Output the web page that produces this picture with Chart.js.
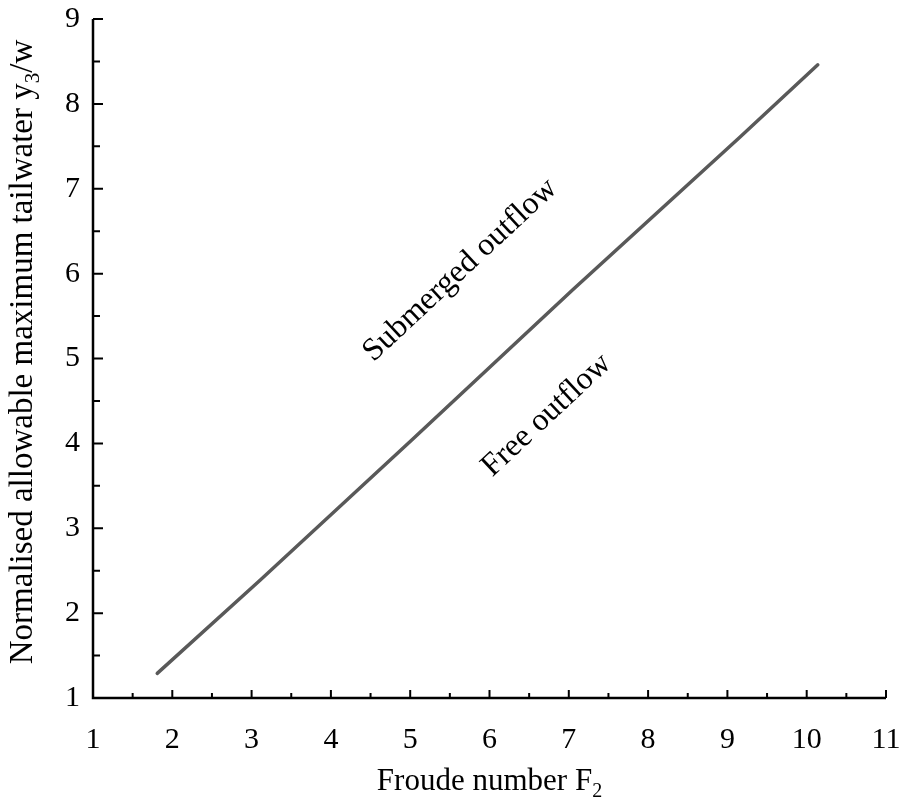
<!DOCTYPE html>
<html>
<head>
<meta charset="utf-8">
<script src="https://cdn.jsdelivr.net/npm/chart.js@4/dist/chart.umd.min.js"></script>
<style>
    html, body { margin: 0; padding: 0; background: #fff; }
    #wrap { width: 903px; height: 799px; }
</style>
</head>
<body>
<div id="wrap"><canvas id="froudeChart" width="903" height="799"></canvas></div>
<script>
// values
const froude = [1.81, 3.11, 5.02, 7.05, 9.16, 10.14];
const tailwater = [1.29, 2.39, 4.04, 5.81, 7.61, 8.46];

const xTicks = [1, 2, 3, 4, 5, 6, 7, 8, 9, 10, 11];
const yTicks = [1, 2, 3, 4, 5, 6, 7, 8, 9];

const SERIF = "'Liberation Serif', 'Times New Roman', serif";

// draws a string made of [text, isSubscript] parts, centred on 0
function drawParts(ctx, parts, size, subSize, subDrop) {
    let total = 0;
    const widths = parts.map(p => {
        ctx.font = (p[1] ? subSize : size) + "px " + SERIF;
        const w = ctx.measureText(p[0]).width;
        total += w;
        return w;
    });
    let x = -total / 2;
    parts.forEach((p, i) => {
        ctx.font = (p[1] ? subSize : size) + "px " + SERIF;
        ctx.fillText(p[0], x, p[1] ? subDrop : 0);
        x += widths[i];
    });
}

const decorPlugin = {
    id: "decor",
    afterDraw(chart) {
        const ctx = chart.ctx;
        const xs = chart.scales.x;
        const ys = chart.scales.y;
        const left = xs.left, bottom = ys.bottom;

        ctx.save();
        ctx.strokeStyle = "#000";
        ctx.lineWidth = 2.5;
        ctx.beginPath();
        ctx.moveTo(left, ys.top);
        ctx.lineTo(left, bottom);
        ctx.lineTo(xs.right, bottom);
        ctx.stroke();

        // inward tick marks, majors and halves
        ctx.lineWidth = 2;
        ctx.beginPath();
        for (let v = 1; v <= 11.001; v += 0.5) {
            const px = xs.getPixelForValue(v);
            const len = Number.isInteger(v) ? 8 : 5;
            ctx.moveTo(px, bottom);
            ctx.lineTo(px, bottom - len);
        }
        for (let v = 1; v <= 9.001; v += 0.5) {
            const py = ys.getPixelForValue(v);
            const len = Number.isInteger(v) ? 10 : 7;
            ctx.moveTo(left, py);
            ctx.lineTo(left + len, py);
        }
        ctx.stroke();

        ctx.fillStyle = "#000";
        ctx.textBaseline = "alphabetic";
        ctx.textAlign = "left";

        // x title
        ctx.save();
        ctx.translate((xs.left + xs.right) / 2, 790);
        drawParts(ctx, [["Froude number F", false], ["2", true]], 31, 20, 7);
        ctx.restore();

        // y title
        ctx.save();
        ctx.translate(32, 352);
        ctx.rotate(-Math.PI / 2);
        drawParts(ctx, [["Normalised allowable maximum tailwater y", false], ["3", true], ["/w", false]], 33, 21, 7);
        ctx.restore();

        // region labels
        ctx.textBaseline = "middle";
        const labels = [
            ["Submerged outflow", 5.63, 6.04],
            ["Free outflow", 6.72, 4.33]
        ];
        labels.forEach(l => {
            ctx.save();
            ctx.translate(xs.getPixelForValue(l[1]), ys.getPixelForValue(l[2]));
            ctx.rotate(-43 * Math.PI / 180);
            drawParts(ctx, [[l[0], false]], 32, 20, 0);
            ctx.restore();
        });
        ctx.restore();
    }
};

new Chart(document.getElementById("froudeChart").getContext("2d"), {
    type: "scatter",
    data: {
        datasets: [{
            data: froude.map((f, i) => ({ x: f, y: tailwater[i] })),
            showLine: true,
            borderColor: "#595959",
            borderWidth: 3.5,
            pointRadius: 0,
            tension: 0,
            borderCapStyle: "round"
        }]
    },
    options: {
        responsive: false,
        animation: false,
        layout: { padding: { top: 19, right: 17, left: 0, bottom: 0 } },
        plugins: { legend: { display: false }, tooltip: { enabled: false } },
        scales: {
            x: {
                type: "linear",
                min: 1, max: 11,
                afterBuildTicks: s => { s.ticks = xTicks.map(v => ({ value: v })); },
                afterFit: s => {
                    s.height = 101;
                    s.paddingLeft = 0;
                    s.paddingRight = 0;
                },
                grid: { display: false, drawTicks: false },
                border: { display: false },
                ticks: {
                    font: { family: SERIF, size: 30 },
                    color: "#000",
                    padding: 24,
                    maxRotation: 0
                }
            },
            y: {
                type: "linear",
                min: 1, max: 9,
                afterBuildTicks: s => { s.ticks = yTicks.map(v => ({ value: v })); },
                afterFit: s => {
                    s.width = 93;
                    s.paddingTop = 0;
                    s.paddingBottom = 0;
                },
                grid: { display: false, drawTicks: false },
                border: { display: false },
                ticks: {
                    font: { family: SERIF, size: 30 },
                    color: "#000",
                    padding: 13
                }
            }
        }
    },
    plugins: [decorPlugin]
});
</script>
</body>
</html>
